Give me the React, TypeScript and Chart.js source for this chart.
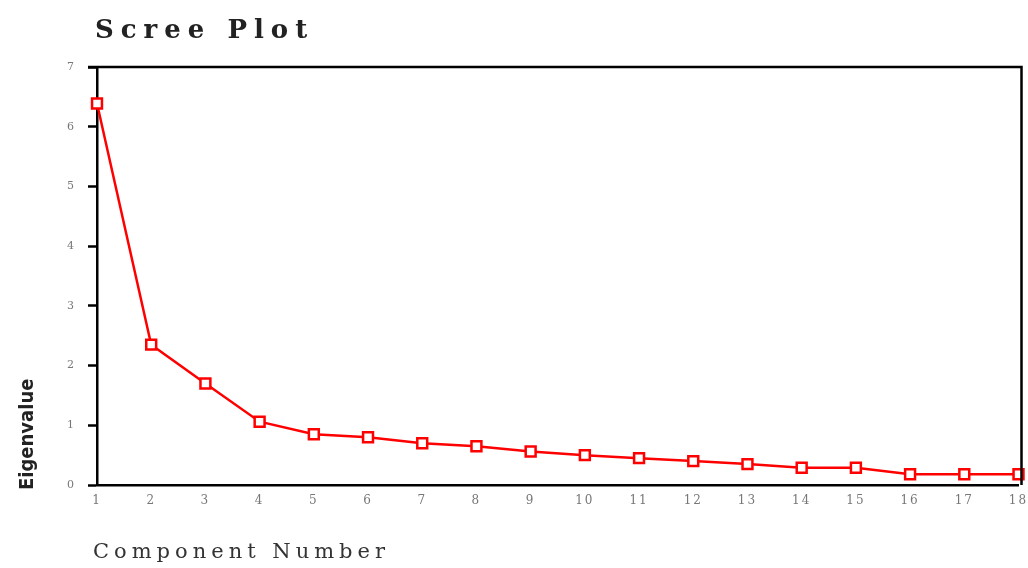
import React, { useEffect, useRef } from "react";
import { Chart, registerables } from "chart.js";

Chart.register(...registerables);

const components: number[] = [1, 2, 3, 4, 5, 6, 7, 8, 9, 10, 11, 12, 13, 14, 15, 16, 17, 18];
const eigenvalues: number[] = [6.39, 2.35, 1.70, 1.06, 0.85, 0.80, 0.70, 0.65, 0.56, 0.50, 0.45, 0.40, 0.35, 0.29, 0.29, 0.18, 0.18, 0.18];
const titleText = "Scree Plot";
const xTitleText = "Component Number";
const yTitleText = "Eigenvalue";

const framePlugin = {
  id: "frame",
  beforeDraw(chart: any) {
    const ctx = chart.ctx;
    ctx.letterSpacing = "2px";
  },
  afterDraw(chart: any) {
    const { ctx, chartArea } = chart;
    ctx.save();
    ctx.letterSpacing = "0px";
    ctx.strokeStyle = "#000";
    ctx.lineWidth = 2.5;
    ctx.beginPath();
    ctx.moveTo(chartArea.left - 9, chartArea.top);
    ctx.lineTo(chartArea.right + 3, chartArea.top);
    ctx.lineTo(chartArea.right + 3, chartArea.bottom);
    ctx.stroke();

    // title
    ctx.fillStyle = "#222";
    ctx.font = "bold 26px 'DejaVu Serif'";
    ctx.letterSpacing = "7px";
    ctx.textAlign = "left";
    ctx.textBaseline = "alphabetic";
    ctx.fillText(titleText, 95, 38);

    // x title
    ctx.fillStyle = "#333";
    ctx.font = "21px 'DejaVu Serif'";
    ctx.letterSpacing = "5px";
    ctx.fillText(xTitleText, 93, 558);

    // y title
    ctx.save();
    ctx.translate(33, 490);
    ctx.rotate(-Math.PI / 2);
    ctx.fillStyle = "#222";
    ctx.font = "bold 20px 'Liberation Sans Narrow', 'DejaVu Sans Condensed', sans-serif";
    ctx.letterSpacing = "0px";
    ctx.textAlign = "left";
    ctx.fillText(yTitleText, 0, 0);
    ctx.restore();
    ctx.restore();
  },
};

export default function App() {
  const ref = useRef<HTMLCanvasElement | null>(null);
  useEffect(() => {
    document.body.style.margin = "0";
    const canvas = ref.current;
    if (!canvas) return;
    const chart = new Chart(canvas, {
      type: "line",
      data: {
        datasets: [
          {
            data: components.map((c, i) => ({ x: c, y: eigenvalues[i] })),
            borderColor: "#ff0000",
            borderWidth: 2.5,
            pointStyle: "rect",
            pointRadius: 7,
            pointBorderWidth: 2.5,
            pointBackgroundColor: "#ffffff",
            pointBorderColor: "#ff0000",
            tension: 0,
            clip: false,
          },
        ],
      },
      options: {
        animation: false,
        responsive: false,
        layout: { padding: { left: 0, right: 5, top: 67, bottom: 0 } },
        plugins: { legend: { display: false }, tooltip: { enabled: false }, title: { display: false } },
        scales: {
          x: {
            type: "linear",
            min: 1,
            max: 18,
            afterFit: (s: any) => { s.height = 83; s.paddingLeft = 0; s.paddingRight = 0; },
            border: { color: "#000", width: 2.5 },
            grid: { display: true, drawOnChartArea: false, drawTicks: false },
            ticks: { stepSize: 1, padding: 9, color: "#777", font: { size: 12, family: "'DejaVu Serif'" }, maxRotation: 0, autoSkip: false },
          },
          y: {
            min: 0,
            max: 7,
            afterFit: (s: any) => { s.width = 97; s.paddingTop = 0; s.paddingBottom = 0; },
            border: { color: "#000", width: 2.5 },
            grid: { display: true, drawOnChartArea: false, drawTicks: true, tickLength: 9, tickColor: "#000", tickWidth: 2.5 },
            ticks: { stepSize: 1, padding: 12, color: "#777", font: { size: 11, family: "'DejaVu Serif'" } },
          },
        },
      },
      plugins: [framePlugin],
    });
    return () => chart.destroy();
  }, []);
  return (
    <div style={{ width: 1028, height: 568, background: "#fff" }}>
      <canvas ref={ref} width={1028} height={568} style={{ width: 1028, height: 568, display: "block" }} />
    </div>
  );
}
